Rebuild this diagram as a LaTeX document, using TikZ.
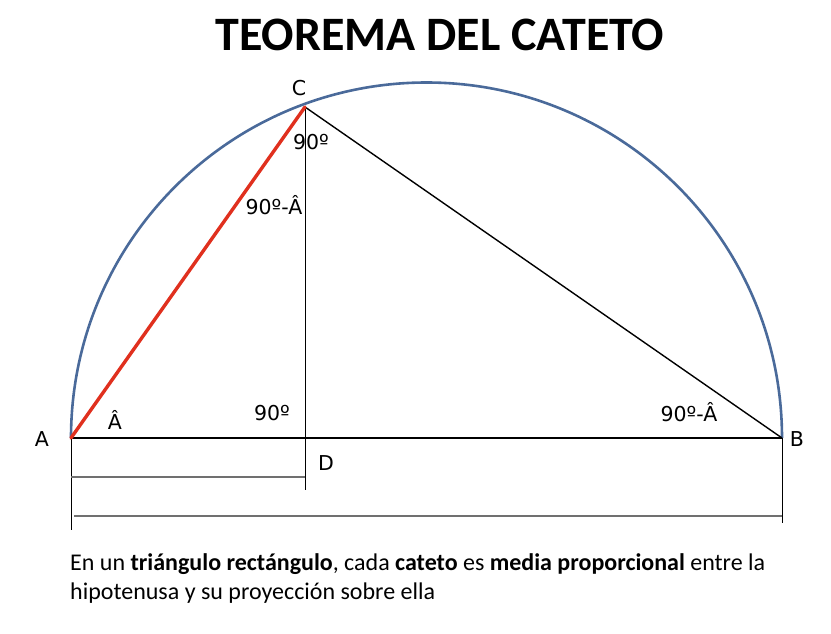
\documentclass[tikz,border=0pt]{standalone}
\usepackage{fontspec}
\setmainfont{Carlito}
\newfontfamily\lblfont{DejaVu Sans}
\definecolor{arcblue}{HTML}{4A6A9A}
\definecolor{legred}{HTML}{E0301E}
\definecolor{dimgray}{HTML}{707070}
\begin{document}
\begin{tikzpicture}[x=1pt,y=-1pt,
  lbl/.style={font=\lblfont\fontsize{20.5}{22}\selectfont, inner sep=0pt},
  dimline/.style={draw=dimgray, line width=1.4pt},
  tick/.style={draw=black, line width=1pt}]
\useasboundingbox (0,0) rectangle (831,634);
% points
\coordinate (A) at (71,438);
\coordinate (B) at (782,438);
\coordinate (O) at (426.5,438);
\coordinate (C) at (305,107);
\coordinate (D) at (305,438);
\coordinate (Aend) at (71,530);
\coordinate (Dend) at (305,490);
\coordinate (Bend) at (782,523);
\coordinate (d1a) at (71,477);
\coordinate (d1b) at (305,477);
\coordinate (d2a) at (74,516);
\coordinate (d2b) at (782,516);
% title
\node[font=\bfseries\fontsize{48}{52}\selectfont, inner sep=0pt] (title) at (440,35) {TEOREMA DEL CATETO};
% semicircle
\draw[arcblue, line width=2.6pt] (B) arc[start angle=0, end angle=-180, radius=355.5];
% lines
\draw[black, line width=2.2pt] (A) -- (B);
\draw[black, line width=1.4pt] (C) -- (B);
\draw[tick] (C) -- (Dend);
\draw[tick] (A) -- (Aend);
\draw[tick] (B) -- (Bend);
\draw[dimline] (d1a) -- (d1b);
\draw[dimline] (d2a) -- (d2b);
\draw[legred, line width=3.4pt, line cap=round] (A) -- (C);
% labels
\node[lbl] (lA) at (42,439) {A};
\node[lbl] (lB) at (797,439) {B};
\node[lbl] (lC) at (299,88) {C};
\node[lbl] (lD) at (326,463) {D};
\node[lbl] (angC) at (311,142) {90º};
\node[lbl] (angCA) at (274,205) {90º-Â};
\node[lbl] (angA) at (115,420) {Â};
\node[lbl] (angD) at (272,413) {90º};
\node[lbl] (angB) at (689,412) {90º-Â};
% caption
\node[anchor=north west, align=left, inner sep=0pt, font=\fontsize{24}{29}\selectfont] (cap) at (70,553)
 {En un \textbf{triángulo rectángulo}, cada \textbf{cateto} es \textbf{media proporcional} entre la\\
  hipotenusa y su proyección sobre ella};
\end{tikzpicture}
\end{document}
